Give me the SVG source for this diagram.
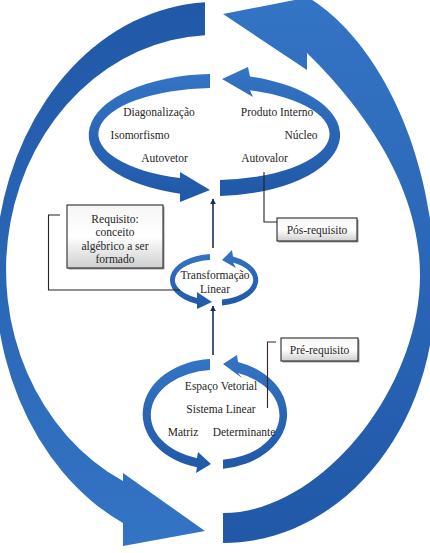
<svg xmlns="http://www.w3.org/2000/svg" width="430" height="553" viewBox="0 0 430 553">
<defs>
<linearGradient id="gDown" x1="0" y1="0" x2="0" y2="1">
<stop offset="0" stop-color="#2158a8"/><stop offset="1" stop-color="#3474c4"/>
</linearGradient>
<linearGradient id="gUp" x1="0" y1="0" x2="0" y2="1">
<stop offset="0" stop-color="#3474c4"/><stop offset="1" stop-color="#2158a8"/>
</linearGradient>
<linearGradient id="gBox" x1="0" y1="0" x2="0" y2="1">
<stop offset="0" stop-color="#f6f6f6"/><stop offset="0.5" stop-color="#ffffff"/><stop offset="1" stop-color="#cfcfcf"/>
</linearGradient>
<marker id="ah" viewBox="0 0 10 10" refX="9" refY="5" markerWidth="6" markerHeight="6" orient="auto" markerUnits="userSpaceOnUse">
<path d="M0,0 L10,5 L0,10 Z" fill="#1a2b5c"/>
</marker>
<style>
.t{font-family:"Liberation Serif","Times New Roman",serif;font-size:11.5px;fill:#262626;text-anchor:middle}
.box{fill:url(#gBox);stroke:#2a2a2a;stroke-width:1.1}
.sh{fill:#9a9a9a}
.ln{fill:none;stroke:#222;stroke-width:1.1}
.va{fill:none;stroke:#1a2b5c;stroke-width:1.6;marker-end:url(#ah)}
</style>
</defs>
<rect width="430" height="553" fill="#fff"/>

<g id="outer-cycle">
<path fill="url(#gDown)" d="M205,2.3 A220,273 0 0 0 123,523 L123,546 L205,531 L123,473 L123,481 A209,235 0 0 1 205,35.3 Z"/>
<path fill="url(#gUp)" d="M223,513 C320,513 420,390 420,275 C420,180 355,100 307,53 L307,70 L223,14 L310,-3 L309,-2 C375,38 436,150 435,290 C435,430 340,543 223,543 Z"/>
</g>

<g id="cycle-pos">
<path fill="url(#gUp)" d="M210,74.1 A126,61 0 0 0 180,193.7 L180,202 L210,190 L180,172 L180,178 A116,46 0 0 1 210,88.1 Z"/>
<path fill="url(#gUp)" d="M220,195.9 A126,61 0 0 0 250,76.5 L248,67 L222,79 L253,97 L250,90.3 A116,46 0 0 1 220,179.9 Z"/>
<text class="t" x="159" y="116">Diagonalização</text>
<text class="t" x="277" y="116">Produto Interno</text>
<text class="t" x="140" y="138.5">Isomorfismo</text>
<text class="t" x="301" y="138.5">Núcleo</text>
<text class="t" x="164.5" y="161.5">Autovetor</text>
<text class="t" x="264.5" y="161.5">Autovalor</text>
</g>

<g id="cycle-transformacao">
<path fill="url(#gUp)" d="M210,254.1 A44,26 0 0 0 197,304 L197,309 L212,302 L197,292 L197,298 A39,20 0 0 1 210,260.1 Z"/>
<path fill="url(#gUp)" d="M222,305.6 A44,26 0 0 0 233,256.5 L232,250 L222,260 L236,268 L233,262.5 A39,20 0 0 1 222,299.6 Z"/>
<text class="t" x="215" y="279">Transformação</text>
<text class="t" x="215" y="293">Linear</text>
</g>

<g id="cycle-pre">
<path fill="url(#gUp)" d="M210,359.1 A72,55 0 0 0 197,467.3 L196,473 L211,464 L198,452 L197,458.2 A64,45 0 0 1 210,370.1 Z"/>
<path fill="url(#gUp)" d="M223,468.7 A72,55 0 0 0 238,361.9 L237,355 L223,364 L242,378 L238,373 A64,45 0 0 1 223,459.8 Z"/>
<text class="t" x="221" y="390">Espaço Vetorial</text>
<text class="t" x="221" y="413">Sistema Linear</text>
<text class="t" x="183" y="436">Matriz</text>
<text class="t" x="244" y="436">Determinante</text>
</g>

<g id="box-requisito">
<rect class="sh" x="68.5" y="206.5" width="96" height="63"/>
<rect class="box" x="67" y="205" width="96" height="63"/>
<text class="t" x="115" y="222.5">Requisito:</text>
<text class="t" x="115" y="236">conceito</text>
<text class="t" x="115" y="249.5">algébrico a ser</text>
<text class="t" x="115" y="263">formado</text>
</g>

<g id="box-pos">
<rect class="sh" x="278.5" y="219.5" width="80" height="23"/>
<rect class="box" x="277" y="218" width="80" height="23"/>
<text class="t" x="317" y="234">Pós-requisito</text>
</g>

<g id="box-pre">
<rect class="sh" x="282.5" y="339.5" width="77" height="23"/>
<rect class="box" x="281" y="338" width="77" height="23"/>
<text class="t" x="319.5" y="354">Pré-requisito</text>
</g>

<g id="connectors">
<path class="va" d="M213,248 V199"/>
<path class="va" d="M213,355 V306"/>
<path class="ln" d="M264,172 V222 H277"/>
<path class="ln" d="M60,215 H48.5 V290 H180"/>
<path class="ln" style="stroke:#3a2222" d="M276,342 H267.5 V408"/>
</g>
</svg>
